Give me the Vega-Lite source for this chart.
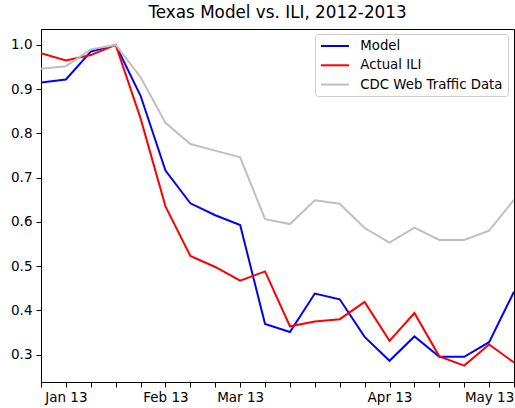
{
  "$schema": "https://vega.github.io/schema/vega-lite/v6.json",
  "width": 473,
  "height": 353,
  "autosize": {"type": "none"},
  "padding": {"left": 41, "top": 29, "right": 1, "bottom": 26},
  "background": "white",
  "title": {
    "text": "Texas Model vs. ILI, 2012-2013",
    "font": "DejaVu Sans",
    "fontSize": 16.8,
    "fontWeight": "normal",
    "color": "black",
    "anchor": "middle",
    "offset": 7
  },
  "config": {
    "view": {"stroke": "black", "strokeWidth": 1},
    "axis": {
      "grid": false,
      "domainColor": "black",
      "tickColor": "black",
      "tickSize": 5,
      "labelFont": "DejaVu Sans",
      "labelFontSize": 13.5,
      "labelColor": "black",
      "labelPadding": 3
    }
  },
  "data": {
    "values": [
      {"i": 0, "series": "Model", "v": 0.915},
      {"i": 1, "series": "Model", "v": 0.922},
      {"i": 2, "series": "Model", "v": 0.985},
      {"i": 3, "series": "Model", "v": 1.0},
      {"i": 4, "series": "Model", "v": 0.885},
      {"i": 5, "series": "Model", "v": 0.716},
      {"i": 6, "series": "Model", "v": 0.642},
      {"i": 7, "series": "Model", "v": 0.615},
      {"i": 8, "series": "Model", "v": 0.593},
      {"i": 9, "series": "Model", "v": 0.369},
      {"i": 10, "series": "Model", "v": 0.351},
      {"i": 11, "series": "Model", "v": 0.438},
      {"i": 12, "series": "Model", "v": 0.425},
      {"i": 13, "series": "Model", "v": 0.340},
      {"i": 14, "series": "Model", "v": 0.286},
      {"i": 15, "series": "Model", "v": 0.341},
      {"i": 16, "series": "Model", "v": 0.295},
      {"i": 17, "series": "Model", "v": 0.295},
      {"i": 18, "series": "Model", "v": 0.328},
      {"i": 19, "series": "Model", "v": 0.442},
      {"i": 0, "series": "Actual ILI", "v": 0.981},
      {"i": 1, "series": "Actual ILI", "v": 0.965},
      {"i": 2, "series": "Actual ILI", "v": 0.977},
      {"i": 3, "series": "Actual ILI", "v": 1.0},
      {"i": 4, "series": "Actual ILI", "v": 0.834},
      {"i": 5, "series": "Actual ILI", "v": 0.635},
      {"i": 6, "series": "Actual ILI", "v": 0.523},
      {"i": 7, "series": "Actual ILI", "v": 0.498},
      {"i": 8, "series": "Actual ILI", "v": 0.467},
      {"i": 9, "series": "Actual ILI", "v": 0.488},
      {"i": 10, "series": "Actual ILI", "v": 0.364},
      {"i": 11, "series": "Actual ILI", "v": 0.375},
      {"i": 12, "series": "Actual ILI", "v": 0.380},
      {"i": 13, "series": "Actual ILI", "v": 0.419},
      {"i": 14, "series": "Actual ILI", "v": 0.331},
      {"i": 15, "series": "Actual ILI", "v": 0.394},
      {"i": 16, "series": "Actual ILI", "v": 0.296},
      {"i": 17, "series": "Actual ILI", "v": 0.275},
      {"i": 18, "series": "Actual ILI", "v": 0.323},
      {"i": 19, "series": "Actual ILI", "v": 0.282},
      {"i": 0, "series": "CDC Web Traffic Data", "v": 0.946},
      {"i": 1, "series": "CDC Web Traffic Data", "v": 0.952},
      {"i": 2, "series": "CDC Web Traffic Data", "v": 0.990},
      {"i": 3, "series": "CDC Web Traffic Data", "v": 1.0},
      {"i": 4, "series": "CDC Web Traffic Data", "v": 0.927},
      {"i": 5, "series": "CDC Web Traffic Data", "v": 0.824},
      {"i": 6, "series": "CDC Web Traffic Data", "v": 0.776},
      {"i": 7, "series": "CDC Web Traffic Data", "v": 0.761},
      {"i": 8, "series": "CDC Web Traffic Data", "v": 0.746},
      {"i": 9, "series": "CDC Web Traffic Data", "v": 0.606},
      {"i": 10, "series": "CDC Web Traffic Data", "v": 0.595},
      {"i": 11, "series": "CDC Web Traffic Data", "v": 0.649},
      {"i": 12, "series": "CDC Web Traffic Data", "v": 0.641},
      {"i": 13, "series": "CDC Web Traffic Data", "v": 0.586},
      {"i": 14, "series": "CDC Web Traffic Data", "v": 0.553},
      {"i": 15, "series": "CDC Web Traffic Data", "v": 0.587},
      {"i": 16, "series": "CDC Web Traffic Data", "v": 0.559},
      {"i": 17, "series": "CDC Web Traffic Data", "v": 0.559},
      {"i": 18, "series": "CDC Web Traffic Data", "v": 0.580},
      {"i": 19, "series": "CDC Web Traffic Data", "v": 0.650}
    ]
  },
  "mark": {"type": "line", "strokeWidth": 2, "clip": true},
  "encoding": {
    "x": {
      "field": "i",
      "type": "quantitative",
      "scale": {"domain": [0, 19], "nice": false, "zero": false},
      "axis": {
        "title": null,
        "values": [0,1,2,3,4,5,6,7,8,9,10,11,12,13,14,15,16,17,18,19],
        "labelExpr": "datum.value == 1 ? 'Jan 13' : datum.value == 5 ? 'Feb 13' : datum.value == 8 ? 'Mar 13' : datum.value == 14 ? 'Apr 13' : datum.value == 18 ? 'May 13' : ''",
        "labelFlush": false,
        "labelOverlap": false
      }
    },
    "y": {
      "field": "v",
      "type": "quantitative",
      "scale": {"domain": [0.238, 1.036], "nice": false, "zero": false},
      "axis": {
        "title": null,
        "values": [0.3, 0.4, 0.5, 0.6, 0.7, 0.8, 0.9, 1.0],
        "format": ".1f",
        "labelPadding": 4
      }
    },
    "color": {
      "field": "series",
      "type": "nominal",
      "sort": null,
      "scale": {
        "domain": ["Model", "Actual ILI", "CDC Web Traffic Data"],
        "range": ["#0000ff", "#ff0000", "#bfbfbf"]
      },
      "legend": {
        "title": null,
        "orient": "none",
        "legendX": 274,
        "legendY": 5,
        "padding": 5,
        "fillColor": "white",
        "strokeColor": "#cccccc",
        "cornerRadius": 3,
        "symbolType": "M-1,0H3.67",
        "symbolSize": 144,
        "symbolStrokeWidth": 2,
        "symbolFillColor": "transparent",
        "labelFont": "DejaVu Sans",
        "labelFontSize": 13.3,
        "labelColor": "black",
        "labelOffset": 26.3,
        "rowPadding": 5.3
      }
    }
  }
}
